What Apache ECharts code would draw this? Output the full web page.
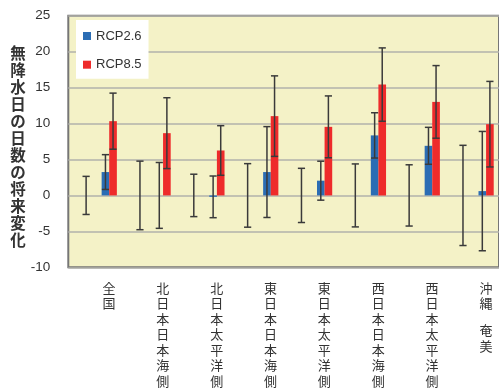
<!DOCTYPE html>
<html>
<head>
<meta charset="utf-8">
<script src="https://cdn.jsdelivr.net/npm/echarts@6/dist/echarts.min.js"></script>
<style>
  html, body { margin: 0; padding: 0; background: #ffffff; }
  #chart { width: 499px; height: 391px; }
</style>
</head>
<body>
<div id="chart"></div>
<script>
// Regions (a space marks the break inside the two-part name)
const categories = ['全国', '北日本日本海側', '北日本太平洋側', '東日本日本海側',
  '東日本太平洋側', '西日本日本海側', '西日本太平洋側', '沖縄 奄美'];

// Year-to-year variability of the present climate (centred on 0)
const presentSpread = [2.65, 4.77, 2.95, 4.42, 3.77, 4.38, 4.26, 6.97];

// Projected change in the number of dry days, with its spread
const rcp26 = [3.25, 0.0, -0.2, 3.25, 2.05, 8.35, 6.9, 0.6];
const rcp26Spread = [2.42, 4.58, 2.9, 6.32, 2.71, 3.15, 2.57, 8.3];
const rcp85 = [10.33, 8.66, 6.25, 11.03, 9.54, 15.42, 13.01, 9.91];
const rcp85Spread = [3.9, 4.93, 3.45, 5.6, 4.3, 5.1, 5.05, 5.95];

const yMin = -10, yMax = 25, yStep = 5;

const BLUE = '#2b6db4';
const RED = '#ee2b2b';
const WHISKER = '#3a3a3a';

function rows(values, spreads) {
  return values.map((v, i) => [i, v, spreads[i]]);
}

// Draws an optional bar plus a whisker, shifted inside the category band
function makeRenderer(offset, color) {
  return function (params, api) {
    const cat = api.value(0), val = api.value(1), err = api.value(2);
    const band = api.size([1, 0])[0];
    const p = api.coord([cat, val]);
    const x = p[0] + offset * band;
    const zeroY = api.coord([cat, 0])[1];
    const topY = api.coord([cat, val + err])[1];
    const botY = api.coord([cat, val - err])[1];
    const w = band * 0.142;
    const cap = 3.6;
    const children = [];
    if (color) {
      children.push({
        type: 'rect',
        shape: { x: x - w / 2, y: Math.min(p[1], zeroY), width: w, height: Math.abs(zeroY - p[1]) },
        style: { fill: color }
      });
    }
    const ls = { stroke: WHISKER, lineWidth: 1.5 };
    children.push({ type: 'line', shape: { x1: x, y1: topY, x2: x, y2: botY }, style: ls });
    children.push({ type: 'line', shape: { x1: x - cap, y1: topY, x2: x + cap, y2: topY }, style: ls });
    children.push({ type: 'line', shape: { x1: x - cap, y1: botY, x2: x + cap, y2: botY }, style: ls });
    return { type: 'group', children: children };
  };
}

const chart = echarts.init(document.getElementById('chart'), null, { renderer: 'canvas' });

chart.setOption({
  animation: false,
  backgroundColor: '#ffffff',
  grid: {
    left: 68.3, top: 15.7, bottom: 123.7, right: -4.5,
    show: true,
    backgroundColor: '#f4f2c7',
    borderColor: '#767676',
    borderWidth: 2
  },
  legend: {
    data: ['RCP2.6', 'RCP8.5'],
    orient: 'vertical',
    left: 76, top: 20,
    padding: [8, 7, 6, 7],
    backgroundColor: '#ffffff',
    icon: 'rect',
    itemWidth: 8, itemHeight: 8,
    itemGap: 12.7,
    textStyle: { fontFamily: 'Liberation Sans', fontSize: 13, color: '#333333', lineHeight: 16 }
  },
  xAxis: {
    type: 'category',
    data: categories,
    boundaryGap: true,
    axisLine: { show: false },
    axisTick: { show: false },
    axisLabel: {
      interval: 0,
      margin: 13,
      padding: [0, 0, 0, 27.6],
      verticalAlign: 'top',
      fontFamily: 'Noto Sans CJK JP',
      fontSize: 13,
      lineHeight: 15.5,
      color: '#333333',
      formatter: function (name) {
        return name.split('').map(ch => ch === ' ' ? '{g| }' : ch).join('\n');
      },
      rich: { g: { fontSize: 2, lineHeight: 11.5 } }
    }
  },
  yAxis: {
    type: 'value',
    min: yMin, max: yMax, interval: yStep,
    axisLine: { show: false },
    axisTick: { show: false },
    axisLabel: {
      margin: 18,
      fontFamily: 'Liberation Sans',
      fontSize: 13.5,
      color: '#333333'
    },
    splitLine: { lineStyle: { color: '#b2b2ab', width: 1.5 } }
  },
  graphic: [{
    type: 'text',
    x: 18, y: 147,
    style: {
      text: '無降水日の日数の将来変化'.split('').join('\n'),
      align: 'center',
      verticalAlign: 'middle',
      fontFamily: 'Noto Sans CJK JP',
      fontWeight: 'bold',
      fontSize: 15.5,
      lineHeight: 17,
      fill: '#333333'
    }
  }],
  series: [
    {
      name: '現在気候の年々変動',
      type: 'custom',
      renderItem: makeRenderer(-0.169, null),
      encode: { x: 0, y: 1 },
      data: rows(presentSpread.map(() => 0), presentSpread),
      z: 3
    },
    {
      name: 'RCP2.6',
      type: 'custom',
      renderItem: makeRenderer(0.19, BLUE),
      itemStyle: { color: BLUE },
      encode: { x: 0, y: 1 },
      data: rows(rcp26, rcp26Spread),
      z: 3
    },
    {
      name: 'RCP8.5',
      type: 'custom',
      renderItem: makeRenderer(0.331, RED),
      itemStyle: { color: RED },
      encode: { x: 0, y: 1 },
      data: rows(rcp85, rcp85Spread),
      z: 3
    }
  ]
});
</script>
</body>
</html>
